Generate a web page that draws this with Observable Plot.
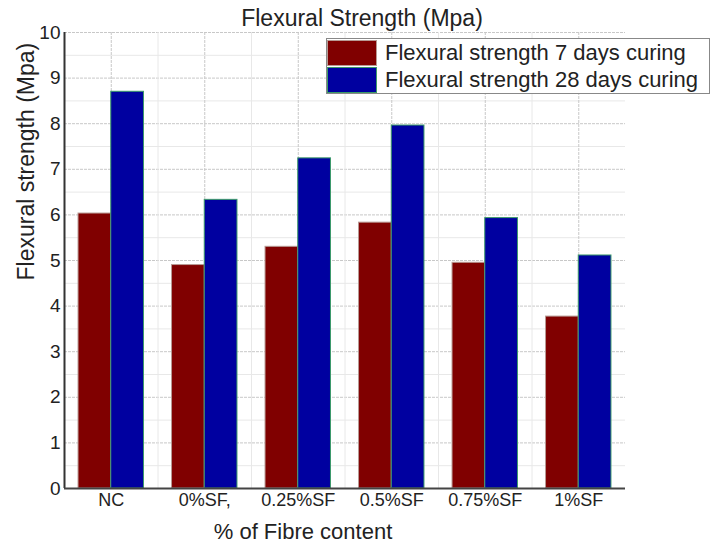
<!DOCTYPE html>
<html><head><meta charset="utf-8">
<script src="https://cdn.jsdelivr.net/npm/d3@7"></script>
<script src="https://cdn.jsdelivr.net/npm/@observablehq/plot@0.6"></script>
<style>
body{margin:0;background:#fff;font-family:"Liberation Sans",Arial,sans-serif;}
#wrap{position:relative;width:715px;height:550px;overflow:hidden;}
#title{position:absolute;top:5px;left:212px;width:300px;text-align:center;font-size:23px;color:#222;white-space:nowrap;line-height:26px;}
#legend{position:absolute;left:326px;top:38px;width:384px;height:56px;background:#fff;border:1px solid #888;box-sizing:border-box;}
.row{position:absolute;left:0;height:27px;display:flex;align-items:center;}
.sw{width:50px;height:26px;box-sizing:border-box;margin-right:8px;}
.lt{font-size:22px;color:#222;white-space:nowrap;line-height:27px;}
</style></head><body>
<div id="wrap"><div id="chart"></div><div id="title"></div><div id="legend"></div></div>
<script>
const categories = ["NC", "0%SF,", "0.25%SF", "0.5%SF", "0.75%SF", "1%SF"];
const seriesNames = ["Flexural strength 7 days curing", "Flexural strength 28 days curing"];
const days7 = [6.03, 4.90, 5.30, 5.83, 4.95, 3.77];
const days28 = [8.70, 6.33, 7.24, 7.96, 5.93, 5.11];
const yTicks = [0, 1, 2, 3, 4, 5, 6, 7, 8, 9, 10];
const colors = ["#800000", "#0000a0"];
const strokes = ["#b89a94", "#3c9a6a"];
const titleText = "Flexural Strength (Mpa)";
const xLabel = "% of Fibre content";
const yLabel = "Flexural strength (Mpa)";

const valuesBySeries = [days7, days28];
const rows = categories.flatMap((c, i) => valuesBySeries.map((vals, k) => ({
  cat: c, i, k, s: seriesNames[k], v: vals[i],
  x1: i + 0.15 + k * 0.35, x2: i + 0.15 + (k + 1) * 0.35
})));
const centers = categories.map((c, i) => i + 0.5);
const bounds = categories.slice(1).map((c, i) => i + 1);
const majorY = yTicks.slice(1);
const minorY = yTicks.slice(0, -1).map(t => t + 0.5);

const chart = Plot.plot({
  width: 715, height: 550,
  marginLeft: 64, marginRight: 90, marginTop: 32, marginBottom: 62,
  style: {fontFamily: "'Liberation Sans', Arial, sans-serif", fontSize: "18px", color: "#222", background: "#fff"},
  x: {type: "linear", domain: [0, categories.length], axis: null},
  y: {domain: [0, 10], axis: null},
  marks: [
    Plot.ruleY(minorY, {stroke: "#e8e8e8", strokeWidth: 1}),
    Plot.ruleY(majorY, {stroke: "#c8c8c8", strokeWidth: 1, strokeDasharray: "3,1"}),
    Plot.ruleX(bounds, {stroke: "#e8e8e8", strokeWidth: 1}),
    Plot.ruleX(centers, {stroke: "#c8c8c8", strokeWidth: 1, strokeDasharray: "3,1"}),
    Plot.rectY(rows, {x1: "x1", x2: "x2", y: "v", fill: d => colors[d.k], stroke: d => strokes[d.k], strokeWidth: 1}),
    Plot.ruleX([0], {stroke: "#333", strokeWidth: 2}),
    Plot.ruleY([0], {stroke: "#444", strokeWidth: 2}),
    Plot.axisY(yTicks, {tickSize: 0, tickPadding: 4, label: null, tickFormat: d => String(d), fontSize: 19}),
    Plot.axisX(centers, {tickSize: 0, tickPadding: 5, label: null, tickFormat: d => categories[Math.floor(d)], fontSize: 18}),
    Plot.text([xLabel], {frameAnchor: "bottom", dx: -42, dy: 50, fontSize: 22, fill: "#222"}),
    Plot.text([yLabel], {frameAnchor: "left", rotate: -90, dx: -38, dy: 20, fontSize: 23, fill: "#222"})
  ]
});
document.getElementById("chart").appendChild(chart);
document.getElementById("title").textContent = titleText;
const leg = document.getElementById("legend");
seriesNames.forEach((n, k) => {
  const r = document.createElement("div");
  r.className = "row";
  r.style.top = (k * 27) + "px";
  r.innerHTML = `<div class="sw" style="background:${colors[k]};border:1px solid ${strokes[k]}"></div><span class="lt">${n}</span>`;
  leg.appendChild(r);
});
</script>
</body></html>
